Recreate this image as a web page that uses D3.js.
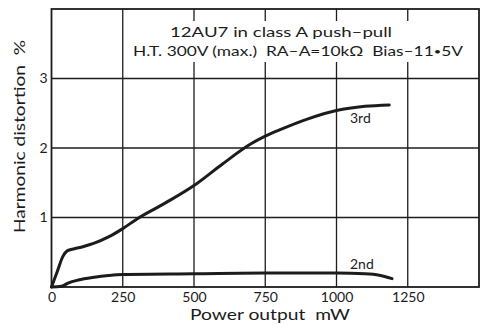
<!DOCTYPE html>
<html>
<head>
<meta charset="utf-8">
<script src="https://cdn.jsdelivr.net/npm/d3@7"></script>
<style>
  html, body { margin: 0; padding: 0; background: #fff; }
  svg text { font-family: "Lato", "DejaVu Sans", sans-serif; fill: #1c1c1c; }
</style>
</head>
<body>
<svg id="chart" width="487" height="330"></svg>
<script>
// Power output (mW) and harmonic distortion (%) for the 12AU7 push-pull stage
const thirdPower = [0, 20, 40, 55, 80, 110, 150, 200, 250, 300, 400, 500, 600, 700, 750, 800, 900, 1000, 1100, 1185];
const thirdDist  = [0, 0.22, 0.44, 0.52, 0.55, 0.58, 0.63, 0.72, 0.84, 0.98, 1.21, 1.46, 1.77, 2.06, 2.17, 2.26, 2.42, 2.54, 2.60, 2.62];

const secondPower = [0, 35, 60, 94, 150, 200, 250, 500, 750, 1000, 1100, 1150, 1195];
const secondDist  = [0, 0.01, 0.06, 0.10, 0.14, 0.165, 0.18, 0.19, 0.20, 0.20, 0.19, 0.17, 0.12];

const xTicks = [0, 250, 500, 750, 1000, 1250];
const yTicks = [1, 2, 3];
const xGrid = [250, 500, 750, 1000, 1250];

const svg = d3.select("#chart");
const plotLeft = 51.5, plotRight = 479, plotTop = 9, plotBottom = 287;

const x = d3.scaleLinear().domain([0, 1500]).range([plotLeft, plotRight]);
const y = d3.scaleLinear().domain([0, 4]).range([plotBottom, plotTop]);

const ink = "#1c1c1c";

// grid
svg.append("g").selectAll("line").data(xGrid).join("line")
  .attr("x1", d => x(d)).attr("x2", d => x(d))
  .attr("y1", plotTop).attr("y2", plotBottom)
  .attr("stroke", ink).attr("stroke-width", 1.3);
svg.append("g").selectAll("line").data(yTicks).join("line")
  .attr("x1", plotLeft).attr("x2", plotRight)
  .attr("y1", d => y(d)).attr("y2", d => y(d))
  .attr("stroke", ink).attr("stroke-width", 1.3);

// frame
svg.append("rect")
  .attr("x", plotLeft).attr("y", plotTop)
  .attr("width", plotRight - plotLeft).attr("height", plotBottom - plotTop)
  .attr("fill", "none").attr("stroke", ink).attr("stroke-width", 1.8);

// title block with a clear background
svg.append("rect").attr("x", 128).attr("y", 21).attr("width", 340).attr("height", 41).attr("fill", "#fff");
svg.append("text").attr("x", 170).attr("y", 37).attr("font-size", 13.5)
  .attr("textLength", 222).attr("lengthAdjust", "spacingAndGlyphs")
  .text("12AU7 in class A push\u2013pull");
const sub = svg.append("text").attr("x", 133).attr("y", 56).attr("font-size", 13.5)
  .attr("textLength", 330).attr("lengthAdjust", "spacingAndGlyphs")
  .attr("xml:space", "preserve");
sub.append("tspan").text("H.T. 300V (max.)  RA\u2013A=10k\u03A9  Bias\u201311");
sub.append("tspan").attr("font-size", 10).attr("dy", -1).text("\u2022");
sub.append("tspan").attr("dy", 1).text("5V");

// curves
const line = d3.line().x(d => x(d[0])).y(d => y(d[1])).curve(d3.curveMonotoneX);
const third = thirdPower.map((p, i) => [p, thirdDist[i]]);
const second = secondPower.map((p, i) => [p, secondDist[i]]);
[third, second].forEach(s => {
  svg.append("path").datum(s).attr("d", line)
    .attr("fill", "none").attr("stroke", ink).attr("stroke-width", 3)
    .attr("stroke-linecap", "round").attr("stroke-linejoin", "round");
});

// curve labels
svg.append("text").attr("x", 350).attr("y", 123).attr("font-size", 14).text("3rd");
svg.append("text").attr("x", 350).attr("y", 269).attr("font-size", 14).text("2nd");

// axis tick labels
const xAxis = d3.axisBottom(x).tickValues(xTicks).tickSize(0).tickPadding(0).tickFormat(d3.format("d"));
const gx = svg.append("g").attr("transform", `translate(0,${plotBottom + 5})`).call(xAxis);
gx.select(".domain").remove();
gx.selectAll("text").attr("font-size", 14).attr("dy", "0.71em").attr("fill", ink)
  .style("font-family", "Lato, 'DejaVu Sans', sans-serif");

const yAxis = d3.axisLeft(y).tickValues(yTicks).tickSize(0).tickPadding(4).tickFormat(d3.format("d"));
const gy = svg.append("g").attr("transform", `translate(${plotLeft},0)`).call(yAxis);
gy.select(".domain").remove();
gy.selectAll("text").attr("font-size", 14).attr("fill", ink)
  .style("font-family", "Lato, 'DejaVu Sans', sans-serif");

// axis titles
svg.append("text").attr("x", 190).attr("y", 320).attr("font-size", 15)
  .attr("textLength", 160).attr("lengthAdjust", "spacingAndGlyphs")
  .attr("xml:space", "preserve")
  .text("Power output  mW");
svg.append("text").attr("transform", "translate(25,233) rotate(-90)")
  .attr("font-size", 15.5)
  .attr("textLength", 193).attr("lengthAdjust", "spacingAndGlyphs")
  .attr("xml:space", "preserve")
  .text("Harmonic distortion  %");
</script>
</body>
</html>
